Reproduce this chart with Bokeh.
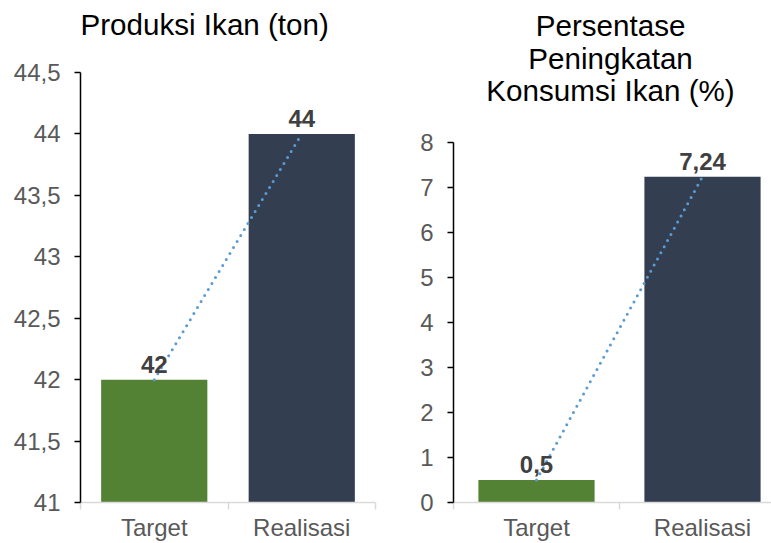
from bokeh.plotting import figure
from bokeh.models import Range1d, FixedTicker, ColumnDataSource, LabelSet, Label
from bokeh.layouts import row, column
from bokeh.core.properties import value
from bokeh.embed import file_html
from bokeh.resources import INLINE

categories = ["Target", "Realisasi"]
bar_colors = ["#548235", "#333F50"]

prod_title = ["Produksi Ikan (ton)"]
prod_values = [42, 44]
prod_ticks = [41, 41.5, 42, 42.5, 43, 43.5, 44, 44.5]
prod_tick_labels = ["41", "41,5", "42", "42,5", "43", "43,5", "44", "44,5"]

kons_title = ["Persentase", "Peningkatan", "Konsumsi Ikan (%)"]
kons_values = [0.5, 7.24]
kons_ticks = [0, 1, 2, 3, 4, 5, 6, 7, 8]
kons_tick_labels = ["0", "1", "2", "3", "4", "5", "6", "7", "8"]

FONT = "Liberation Sans"
H = 543          # canvas height
BB = 41          # bottom border (category labels)


def fmt(v):
    return ("%g" % v).replace(".", ",")


def panel(title_lines, values, ticks, tick_labels, width, bl, br, axis_top_px,
          x_end, bar_w, title_x, title_align, title_dx, title_offsets):
    n = len(categories)
    xs = [i + 0.5 for i in range(n)]
    frame_h = H - BB
    axis_h = frame_h - axis_top_px
    y0, y1 = ticks[0], ticks[-1]
    y_end = y0 + (y1 - y0) * frame_h / axis_h
    p = figure(width=width, height=H, output_backend="svg",
               toolbar_location=None, x_range=Range1d(0, x_end),
               y_range=Range1d(y0, y_end),
               min_border_left=bl, min_border_right=br,
               min_border_top=0, min_border_bottom=BB)
    p.outline_line_color = None
    p.grid.visible = False
    p.background_fill_color = "white"
    p.border_fill_color = "white"

    for line, off in zip(title_lines, title_offsets):
        p.add_layout(Label(x=title_x, y=y1, text=line,
                           text_align=title_align, text_baseline="alphabetic",
                           x_offset=title_dx, y_offset=off,
                           text_font=FONT, text_font_size="29.6px",
                           text_color="#000000"))

    src = ColumnDataSource(dict(
        x=xs, top=values, color=bar_colors[:n],
        label=[fmt(v) for v in values]))
    p.vbar(x="x", top="top", bottom=y0, width=bar_w, color="color",
           line_color=None, source=src)
    p.line(x="x", y="top", source=src, line_color="#5B9BD5", line_width=3,
           line_dash="0 7", line_cap="round")

    p.add_layout(LabelSet(x="x", y="top", text="label", source=src,
                          text_align="center", text_baseline="alphabetic",
                          y_offset=7, text_font=value(FONT),
                          text_font_size=value("24px"),
                          text_font_style=value("bold"), text_color="#404040"))

    ya = p.yaxis[0]
    ya.ticker = FixedTicker(ticks=ticks)
    ya.bounds = (y0, y1)
    ya.major_label_overrides = dict(zip(ticks, tick_labels))
    ya.axis_line_color = "black"
    ya.axis_line_width = 1.5
    ya.major_tick_line_color = "black"
    ya.major_tick_line_width = 1.5
    ya.major_tick_out = 6
    ya.major_tick_in = 0
    ya.minor_tick_line_color = None
    ya.major_label_text_font = FONT
    ya.major_label_text_font_size = "24px"
    ya.major_label_text_color = "#595959"
    ya.major_label_standoff = 14

    xa = p.xaxis[0]
    xa.ticker = FixedTicker(ticks=xs, minor_ticks=list(range(n + 1)))
    xa.major_label_overrides = dict(zip(xs, categories))
    xa.axis_line_color = "#D9D9D9"
    xa.axis_line_width = 1.5
    xa.major_tick_line_color = None
    xa.major_tick_out = 0
    xa.major_tick_in = 0
    xa.minor_tick_line_color = "#D9D9D9"
    xa.minor_tick_line_width = 1.5
    xa.minor_tick_out = 7
    xa.minor_tick_in = 0
    xa.major_label_standoff = 4
    xa.major_label_text_font = FONT
    xa.major_label_text_font_size = "24px"
    xa.major_label_text_color = "#595959"
    return p


left = panel(prod_title, prod_values, prod_ticks, prod_tick_labels,
             width=400, bl=80, br=25, axis_top_px=72,
             x_end=2.0, bar_w=0.72, title_x=0, title_align="left",
             title_dx=0, title_offsets=[48])
right = panel(kons_title, kons_values, kons_ticks, kons_tick_labels,
              width=371, bl=53, br=0, axis_top_px=142,
              x_end=318 / 166, bar_w=0.70, title_x=0.946, title_align="center",
              title_dx=0, title_offsets=[117, 84, 52])

layout = row(column(left), column(right))
open("out.html", "w").write(file_html(layout, INLINE))
